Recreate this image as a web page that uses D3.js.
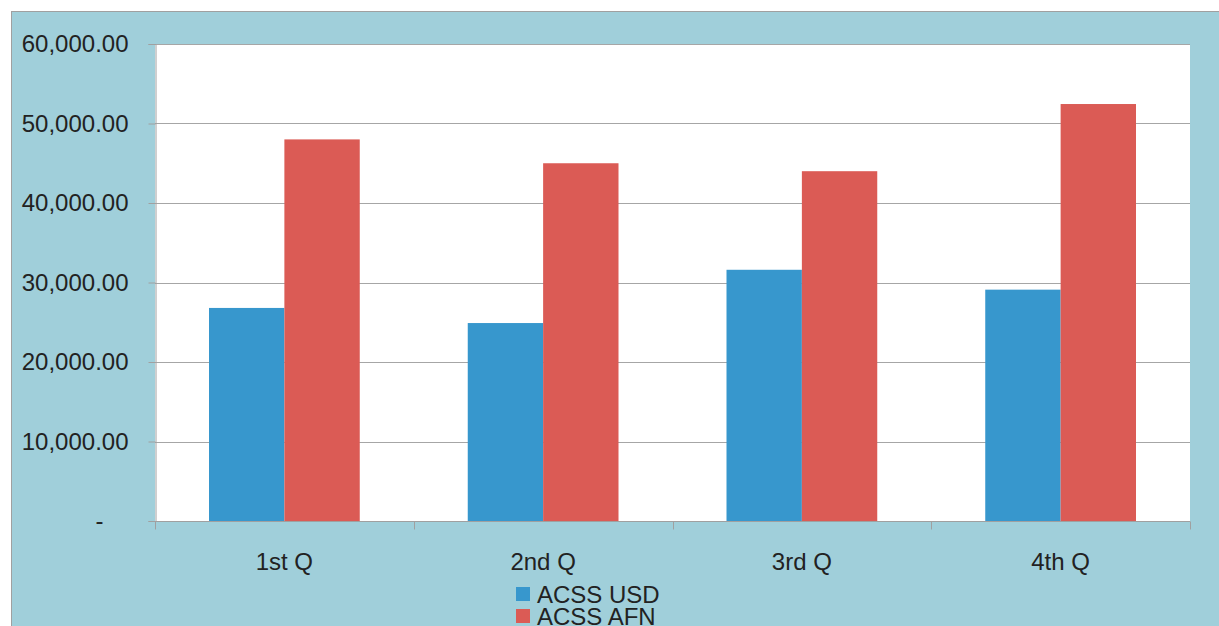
<!DOCTYPE html>
<html>
<head>
<meta charset="utf-8">
<script src="https://cdn.jsdelivr.net/npm/d3@7"></script>
<style>
  html, body { margin: 0; padding: 0; background: #ffffff; }
  svg { display: block; }
  text { font-family: "Liberation Sans", Arial, sans-serif; fill: #222222; }
</style>
</head>
<body>
<svg id="chart" width="1219" height="626"></svg>
<script>
const categories = ["1st Q", "2nd Q", "3rd Q", "4th Q"];
const seriesNames = ["ACSS USD", "ACSS AFN"];
const usdValues = [26800, 24900, 31600, 29100];
const afnValues = [48000, 45000, 44000, 52450];
const yTicks = [0, 10000, 20000, 30000, 40000, 50000, 60000];
const colors = ["#3797CD", "#DB5B55"];

const W = 1219, H = 626;
const plot = { left: 155, top: 44, right: 1190, bottom: 521 };

const svg = d3.select("#chart");

// outer frame
svg.append("rect")
  .attr("x", 11.5).attr("y", 11.5)
  .attr("width", W - 11).attr("height", H)
  .attr("fill", "#A0CFDA")
  .attr("stroke", "#A0A0A0").attr("stroke-width", 1);

// plot area
svg.append("rect")
  .attr("x", plot.left).attr("y", plot.top)
  .attr("width", plot.right - plot.left).attr("height", plot.bottom - plot.top)
  .attr("fill", "#ffffff");

const x0 = d3.scaleBand().domain(categories).range([plot.left, plot.right]).paddingInner(0).paddingOuter(0);
const bw = x0.bandwidth();
const x1 = d3.scaleBand().domain(seriesNames).range([bw * 0.2087, bw * 0.7913]).padding(0);
const y = d3.scaleLinear().domain([0, 60000]).range([plot.bottom, plot.top]);

// gridlines
svg.append("g")
  .selectAll("line")
  .data(yTicks.filter(d => d > 0))
  .join("line")
  .attr("x1", plot.left).attr("x2", plot.right)
  .attr("y1", d => Math.round(y(d)) + 0.5).attr("y2", d => Math.round(y(d)) + 0.5)
  .attr("stroke", "#A6A6A6").attr("stroke-width", 1);

// bars
const rows = categories.map((c, i) => ({ cat: c, vals: [usdValues[i], afnValues[i]] }));
const g = svg.append("g").selectAll("g").data(rows).join("g")
  .attr("transform", d => `translate(${x0(d.cat)},0)`);
g.selectAll("rect")
  .data(d => d.vals.map((v, j) => ({ name: seriesNames[j], v, j })))
  .join("rect")
  .attr("x", d => x1(d.name))
  .attr("width", x1.bandwidth())
  .attr("y", d => y(d.v))
  .attr("height", d => y(0) - y(d.v))
  .attr("fill", d => colors[d.j]);

// y axis
const fmt = d3.format(",.2f");
const yAxis = d3.axisLeft(y).tickValues(yTicks)
  .tickFormat(d => d === 0 ? "-" : fmt(d))
  .tickSize(7).tickPadding(20);
const yg = svg.append("g").attr("transform", `translate(${plot.left + 0.5},0)`).call(yAxis);
yg.select(".domain").attr("stroke", "#A0A0A0");
yg.selectAll(".tick line").attr("stroke", "#A0A0A0");
yg.selectAll(".tick text")
  .attr("font-size", "24px")
  .attr("fill", "#222222")
  .attr("font-family", '"Liberation Sans", Arial, sans-serif')
  .attr("x", d => d === 0 ? -52 : -27);

// x axis
const xg = svg.append("g").attr("transform", `translate(0,${plot.bottom + 0.5})`);
xg.append("line")
  .attr("x1", plot.left).attr("x2", plot.right)
  .attr("stroke", "#A0A0A0");
const bounds = categories.map(c => x0(c)).concat([x0(categories[categories.length - 1]) + bw]);
xg.selectAll("line.tk").data(bounds).join("line")
  .attr("class", "tk")
  .attr("x1", d => Math.round(d) + 0.5).attr("x2", d => Math.round(d) + 0.5)
  .attr("y1", 0).attr("y2", 8)
  .attr("stroke", "#A0A0A0");
xg.selectAll("text").data(categories).join("text")
  .attr("x", d => x0(d) + bw / 2)
  .attr("y", 48)
  .attr("text-anchor", "middle")
  .attr("font-size", "24px")
  .text(d => d);

// legend
const lg = svg.append("g").attr("transform", "translate(516,587)");
seriesNames.forEach((n, i) => {
  lg.append("rect").attr("x", 0).attr("y", i * 22).attr("width", 14).attr("height", 14).attr("fill", colors[i]);
  lg.append("text").attr("x", 21).attr("y", i * 22 + 16).attr("font-size", "24px").text(n);
});
</script>
</body>
</html>
